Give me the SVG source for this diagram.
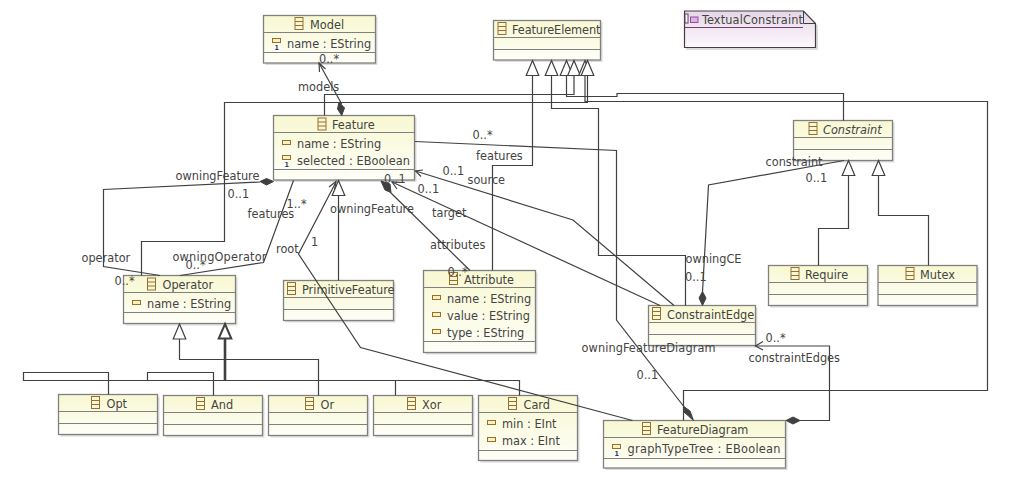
<svg xmlns="http://www.w3.org/2000/svg" width="1011" height="481" viewBox="0 0 1011 481">
<style>
text{font-family:"DejaVu Sans",Verdana,sans-serif;font-stretch:condensed;font-size:12.6px;fill:#444}
.box{fill:url(#cg);stroke:#808080;stroke-width:1.3}
.sh{fill:#dcdcdc}
.div{stroke:#808080;stroke-width:1;fill:none}
.c{fill:none;stroke:#404040;stroke-width:1.2}
.thick{fill:none;stroke:#404040;stroke-width:2.6}
.ar{fill:none;stroke:#404040;stroke-width:1.2}
.tri{fill:#fff;stroke:#404040;stroke-width:1.2}
.trib{fill:#fff;stroke:#404040;stroke-width:2}
.dia{fill:#404040;stroke:#404040;stroke-width:1}
text.req{font-size:7px;font-weight:bold;fill:#1a3a80}
</style>
<defs>
<linearGradient id="cg" x1="0" y1="0" x2="0" y2="1"><stop offset="0" stop-color="#f8f8d2"/><stop offset="1" stop-color="#fefef8"/></linearGradient>
<linearGradient id="ng" x1="0" y1="0" x2="0" y2="1"><stop offset="0" stop-color="#e6d6e6"/><stop offset="1" stop-color="#fdf9fd"/></linearGradient>
<g id="ci"><rect x="0.5" y="0.5" width="8" height="12" fill="#fbf6d8" stroke="#96702a"/><path d="M0.5 4.5H8.5M0.5 8.5H8.5" stroke="#96702a" fill="none"/></g>
<rect id="ai" x="0.5" y="0.5" width="8" height="4" fill="#fbf0c0" stroke="#96702a"/>
<path id="up" class="tri" d="M0 0L6.3 15H-6.3Z"/>
</defs>

<g id="TextualConstraint">
<path d="M686 13H805L818 26V50H686Z" class="sh"/>
<path d="M684.5 11H803.5L815.5 23.500V47.500H684.500Z" fill="url(#ng)" stroke="#404040" stroke-width="1.200"/>
<path d="M803.500 11L803.500 23.500H815.500" fill="none" stroke="#404040"/>
<path d="M684.500 27.500H803" stroke="#704070" fill="none"/>
<rect x="685" y="14" width="3" height="9" fill="#fff" stroke="#604060"/><rect x="690.500" y="17" width="7.500" height="5.500" fill="#e0b0e8" stroke="#9050a0"/>
<text x="702" y="24" textLength="101">TextualConstraint</text>
</g>

<g id="Model"><rect class="sh" x="265.500" y="17" width="112" height="48"/><rect class="box" x="263.500" y="15.500" width="112" height="47.500"/><path class="div" d="M263.500 32.500H375.500M263.500 52.500H375.500"/><use href="#ci" x="294.500" y="17"/><text x="310" y="29">Model</text><use href="#ai" x="272" y="38"/><text class="req" x="274.500" y="49.500">1</text><text x="287" y="48">name : EString</text></g>

<g id="FeatureElement"><rect class="sh" x="495.500" y="22" width="107" height="40"/><rect class="box" x="493.500" y="20.500" width="107" height="39.500"/><path class="div" d="M493.500 37.500H600.500M493.500 49.500H600.500"/><use href="#ci" x="497.500" y="22"/><text x="512" y="34" textLength="88.500">FeatureElement</text></g>

<g id="Feature"><rect class="sh" x="275.500" y="117.500" width="141" height="64.500"/><rect class="box" x="273.500" y="115.500" width="141" height="64.500"/><path class="div" d="M273.500 132.500H414.500M273.500 169.500H414.500"/><use href="#ci" x="317.500" y="117.500"/><text x="332" y="129">Feature</text><use href="#ai" x="282" y="140"/><text x="297" y="148">name : EString</text><use href="#ai" x="282" y="155"/><text class="req" x="284.500" y="166.500">1</text><text x="297" y="165" textLength="113">selected : EBoolean</text></g>

<g id="Constraint"><rect class="sh" x="795.500" y="122.500" width="99" height="40"/><rect class="box" x="793.500" y="120.500" width="99" height="40"/><path class="div" d="M793.500 137.500H892.500M793.500 149.500H892.500"/><use href="#ci" x="808.500" y="122"/><text x="823" y="134" font-style="italic">Constraint</text></g>

<g id="Require"><rect class="sh" x="770.500" y="267.500" width="99" height="40"/><rect class="box" x="768.500" y="265.500" width="99" height="40"/><path class="div" d="M768.500 282.500H867.500M768.500 294.500H867.500"/><use href="#ci" x="790.500" y="267"/><text x="805" y="279">Require</text></g>

<g id="Mutex"><rect class="sh" x="880" y="267.500" width="99" height="40"/><rect class="box" x="878" y="265.500" width="99" height="40"/><path class="div" d="M878 282.500H977M878 294.500H977"/><use href="#ci" x="905.500" y="267"/><text x="920" y="279">Mutex</text></g>

<g id="Operator"><rect class="sh" x="125.500" y="277.500" width="112" height="48"/><rect class="box" x="123.500" y="275.500" width="112" height="48"/><path class="div" d="M123.500 292.500H235.500M123.500 312.500H235.500"/><use href="#ci" x="147" y="277.500"/><text x="162.500" y="289">Operator</text><use href="#ai" x="132" y="300"/><text x="147" y="308">name : EString</text></g>

<g id="PrimitiveFeature"><rect class="sh" x="285.500" y="282.500" width="110" height="40"/><rect class="box" x="283.500" y="280.500" width="110" height="40"/><path class="div" d="M283.500 297.500H393.500M283.500 309.500H393.500"/><use href="#ci" x="287" y="282"/><text x="302" y="294">PrimitiveFeature</text></g>

<g id="Attribute"><rect class="sh" x="425.500" y="272.500" width="112" height="82"/><rect class="box" x="423.500" y="270.500" width="112" height="82"/><path class="div" d="M423.500 287.500H535.500M423.500 341.500H535.500"/><use href="#ci" x="449" y="272"/><text x="464" y="284">Attribute</text><use href="#ai" x="432" y="295"/><text x="447" y="303">name : EString</text><use href="#ai" x="432" y="312"/><text x="447" y="320">value : EString</text><use href="#ai" x="432" y="329"/><text x="447" y="337">type : EString</text></g>

<g id="ConstraintEdge"><rect class="sh" x="650.500" y="307.500" width="107" height="40"/><rect class="box" x="648.500" y="305.500" width="107" height="40"/><path class="div" d="M648.500 322.500H755.500M648.500 334.500H755.500"/><use href="#ci" x="652" y="307"/><text x="667" y="319">ConstraintEdge</text></g>

<g id="Opt"><rect class="sh" x="60.500" y="396.500" width="99" height="40"/><rect class="box" x="58.500" y="394.500" width="99" height="40"/><path class="div" d="M58.500 411.500H157.500M58.500 423.500H157.500"/><use href="#ci" x="91" y="396"/><text x="106.500" y="408">Opt</text></g>

<g id="And"><rect class="sh" x="165.500" y="397.500" width="99" height="40"/><rect class="box" x="163.500" y="395.500" width="99" height="40"/><path class="div" d="M163.500 412.500H262.500M163.500 424.500H262.500"/><use href="#ci" x="196" y="397"/><text x="211" y="409">And</text></g>

<g id="Or"><rect class="sh" x="270.500" y="397.500" width="99" height="40"/><rect class="box" x="268.500" y="395.500" width="99" height="40"/><path class="div" d="M268.500 412.500H367.500M268.500 424.500H367.500"/><use href="#ci" x="305" y="397"/><text x="320.500" y="409">Or</text></g>

<g id="Xor"><rect class="sh" x="375.500" y="397.500" width="99" height="40"/><rect class="box" x="373.500" y="395.500" width="99" height="40"/><path class="div" d="M373.500 412.500H472.500M373.500 424.500H472.500"/><use href="#ci" x="407" y="397"/><text x="422" y="409">Xor</text></g>

<g id="Card"><rect class="sh" x="480.500" y="397.500" width="99" height="65"/><rect class="box" x="478.500" y="395.500" width="99" height="65"/><path class="div" d="M478.500 412.500H577.500M478.500 450.500H577.500"/><use href="#ci" x="508" y="397"/><text x="523.500" y="409">Card</text><use href="#ai" x="487" y="420"/><text x="502" y="428">min : EInt</text><use href="#ai" x="487" y="437"/><text x="502" y="445">max : EInt</text></g>

<g id="FeatureDiagram"><rect class="sh" x="605.500" y="422.500" width="182" height="47.500"/><rect class="box" x="603.500" y="420.500" width="182" height="47.500"/><path class="div" d="M603.500 437.500H785.500M603.500 458.500H785.500"/><use href="#ci" x="642" y="422"/><text x="657" y="434">FeatureDiagram</text><use href="#ai" x="612" y="444"/><text class="req" x="614.500" y="455.500">1</text><text x="627.500" y="453" textLength="153">graphTypeTree : EBoolean</text></g>

<g id="connectors">
<path class="c" d="M341.700 104L319 63"/><path class="dia" d="M341.700 115.500L344.500 108L339 102L337.500 109Z"/><path class="ar" d="M319.500 72L319 63L325.500 69"/>
<path class="c" d="M492.500 270.500V165.500H532.500V75"/><use href="#up" x="532.500" y="60.500"/>
<path class="c" d="M685.500 305.500V255.500H598.500V108.500H551.500V75"/><use href="#up" x="551.500" y="60.500"/>
<path class="c" d="M843.500 120.500V93.500H617V96.500H566.500V75"/><use href="#up" x="566.500" y="60.500"/>
<path class="c" d="M324.500 115.500V94.500H574V75"/><use href="#up" x="574" y="60.500"/>
<path class="c" d="M683.500 420.500V390.500H987.500V101.500H585V75"/><use href="#up" x="585" y="60.500"/>
<path class="c" d="M141.500 275.500V241.500H224.500V102.500H587.500V75"/><use href="#up" x="587.500" y="60.500"/>
<path class="c" d="M632.500 420.500L360.500 347.500L298.500 254L336 182"/><path class="ar" d="M334.500 190L336 181.500L329 187"/>
<path class="c" d="M338.500 280.500V195"/><use href="#up" x="338.500" y="180.500"/>
<path class="c" d="M470 270.500L390 192"/><path class="dia" d="M381 181L390 184L391 192.500L385 190Z"/>
<path class="c" d="M660 305.500L392 182"/><path class="ar" d="M401 182.500L392 182L397 189"/>
<path class="c" d="M674 305.500L573 220L415.500 171"/><path class="ar" d="M423 170L415.500 171L421 176.500"/>
<path class="c" d="M685 408L616.500 320V150.500L415 141.500"/><path class="dia" d="M693.500 420.500L690 411L684.500 407L684 412Z"/>
<path class="c" d="M702.500 292L708.500 185L844 160.500"/><path class="dia" d="M702.500 305.500L706 298L702.500 291.500L699 298Z"/>
<path class="c" d="M786 420.500H829.500V346H755.500"/><path class="ar" d="M763 341.500L755.500 346L763 350"/><path class="dia" d="M786 420.500L793 417L800 420.500L793 424Z"/>
<path class="c" d="M848.500 175V228.500H818.500V265.500"/><use href="#up" x="848.500" y="160.500"/>
<path class="c" d="M878.500 175V215.500H928.500V265.500"/><use href="#up" x="878.500" y="160.500"/>
<path class="c" d="M179.500 338V359.500H318.500V395.500"/><use href="#up" x="179.500" y="324"/>
<path class="c" d="M108.500 394.500V372.500H23.500V380.500H225"/>
<path class="c" d="M213.500 395.500V372.500H147.500V380.500H225"/>
<path class="c" d="M395.500 395.500V380.500H225"/>
<path class="c" d="M519.500 395.500V380.500H225"/>
<path class="thick" d="M225 338.500V380.500"/><path class="trib" d="M225 324L231.300 338.500H218.700Z"/>
<path class="c" d="M260 182L103.500 189.500V266.500L160 275.500"/><path class="dia" d="M273.500 181.500L266.500 178.500L260 181.500L266.500 185Z"/>
<path class="c" d="M293.500 180.500L263.500 262.500L180 275.500"/>
</g>

<g id="labels">
<text x="298" y="91">models</text>
<text x="319" y="63">0..*</text>
<text x="472.500" y="139">0..*</text>
<text x="476" y="160">features</text>
<text x="442.500" y="175">0..1</text>
<text x="467.500" y="184">source</text>
<text x="384" y="183">0..1</text>
<text x="417.500" y="193">0..1</text>
<text x="432" y="217">target</text>
<text x="330" y="213" textLength="84">owningFeature</text>
<text x="430" y="249">attributes</text>
<text x="447.500" y="276">0..*</text>
<text x="276" y="253">root</text>
<text x="311" y="246">1</text>
<text x="286.500" y="208">1..*</text>
<text x="247.500" y="218">features</text>
<text x="175.500" y="180" textLength="84">owningFeature</text>
<text x="227.500" y="198">0..1</text>
<text x="81.500" y="262">operator</text>
<text x="172.500" y="261" textLength="94">owningOperator</text>
<text x="185.500" y="269">0..*</text>
<text x="114.500" y="285">0..*</text>
<text x="765.500" y="166">constraint</text>
<text x="805.500" y="182">0..1</text>
<text x="685.500" y="263">owningCE</text>
<text x="685" y="281">0..1</text>
<text x="765.500" y="342">0..*</text>
<text x="748.500" y="362" textLength="91.500">constraintEdges</text>
<text x="581.500" y="352" textLength="134">owningFeatureDiagram</text>
<text x="636.500" y="379">0..1</text>
</g>
</svg>
